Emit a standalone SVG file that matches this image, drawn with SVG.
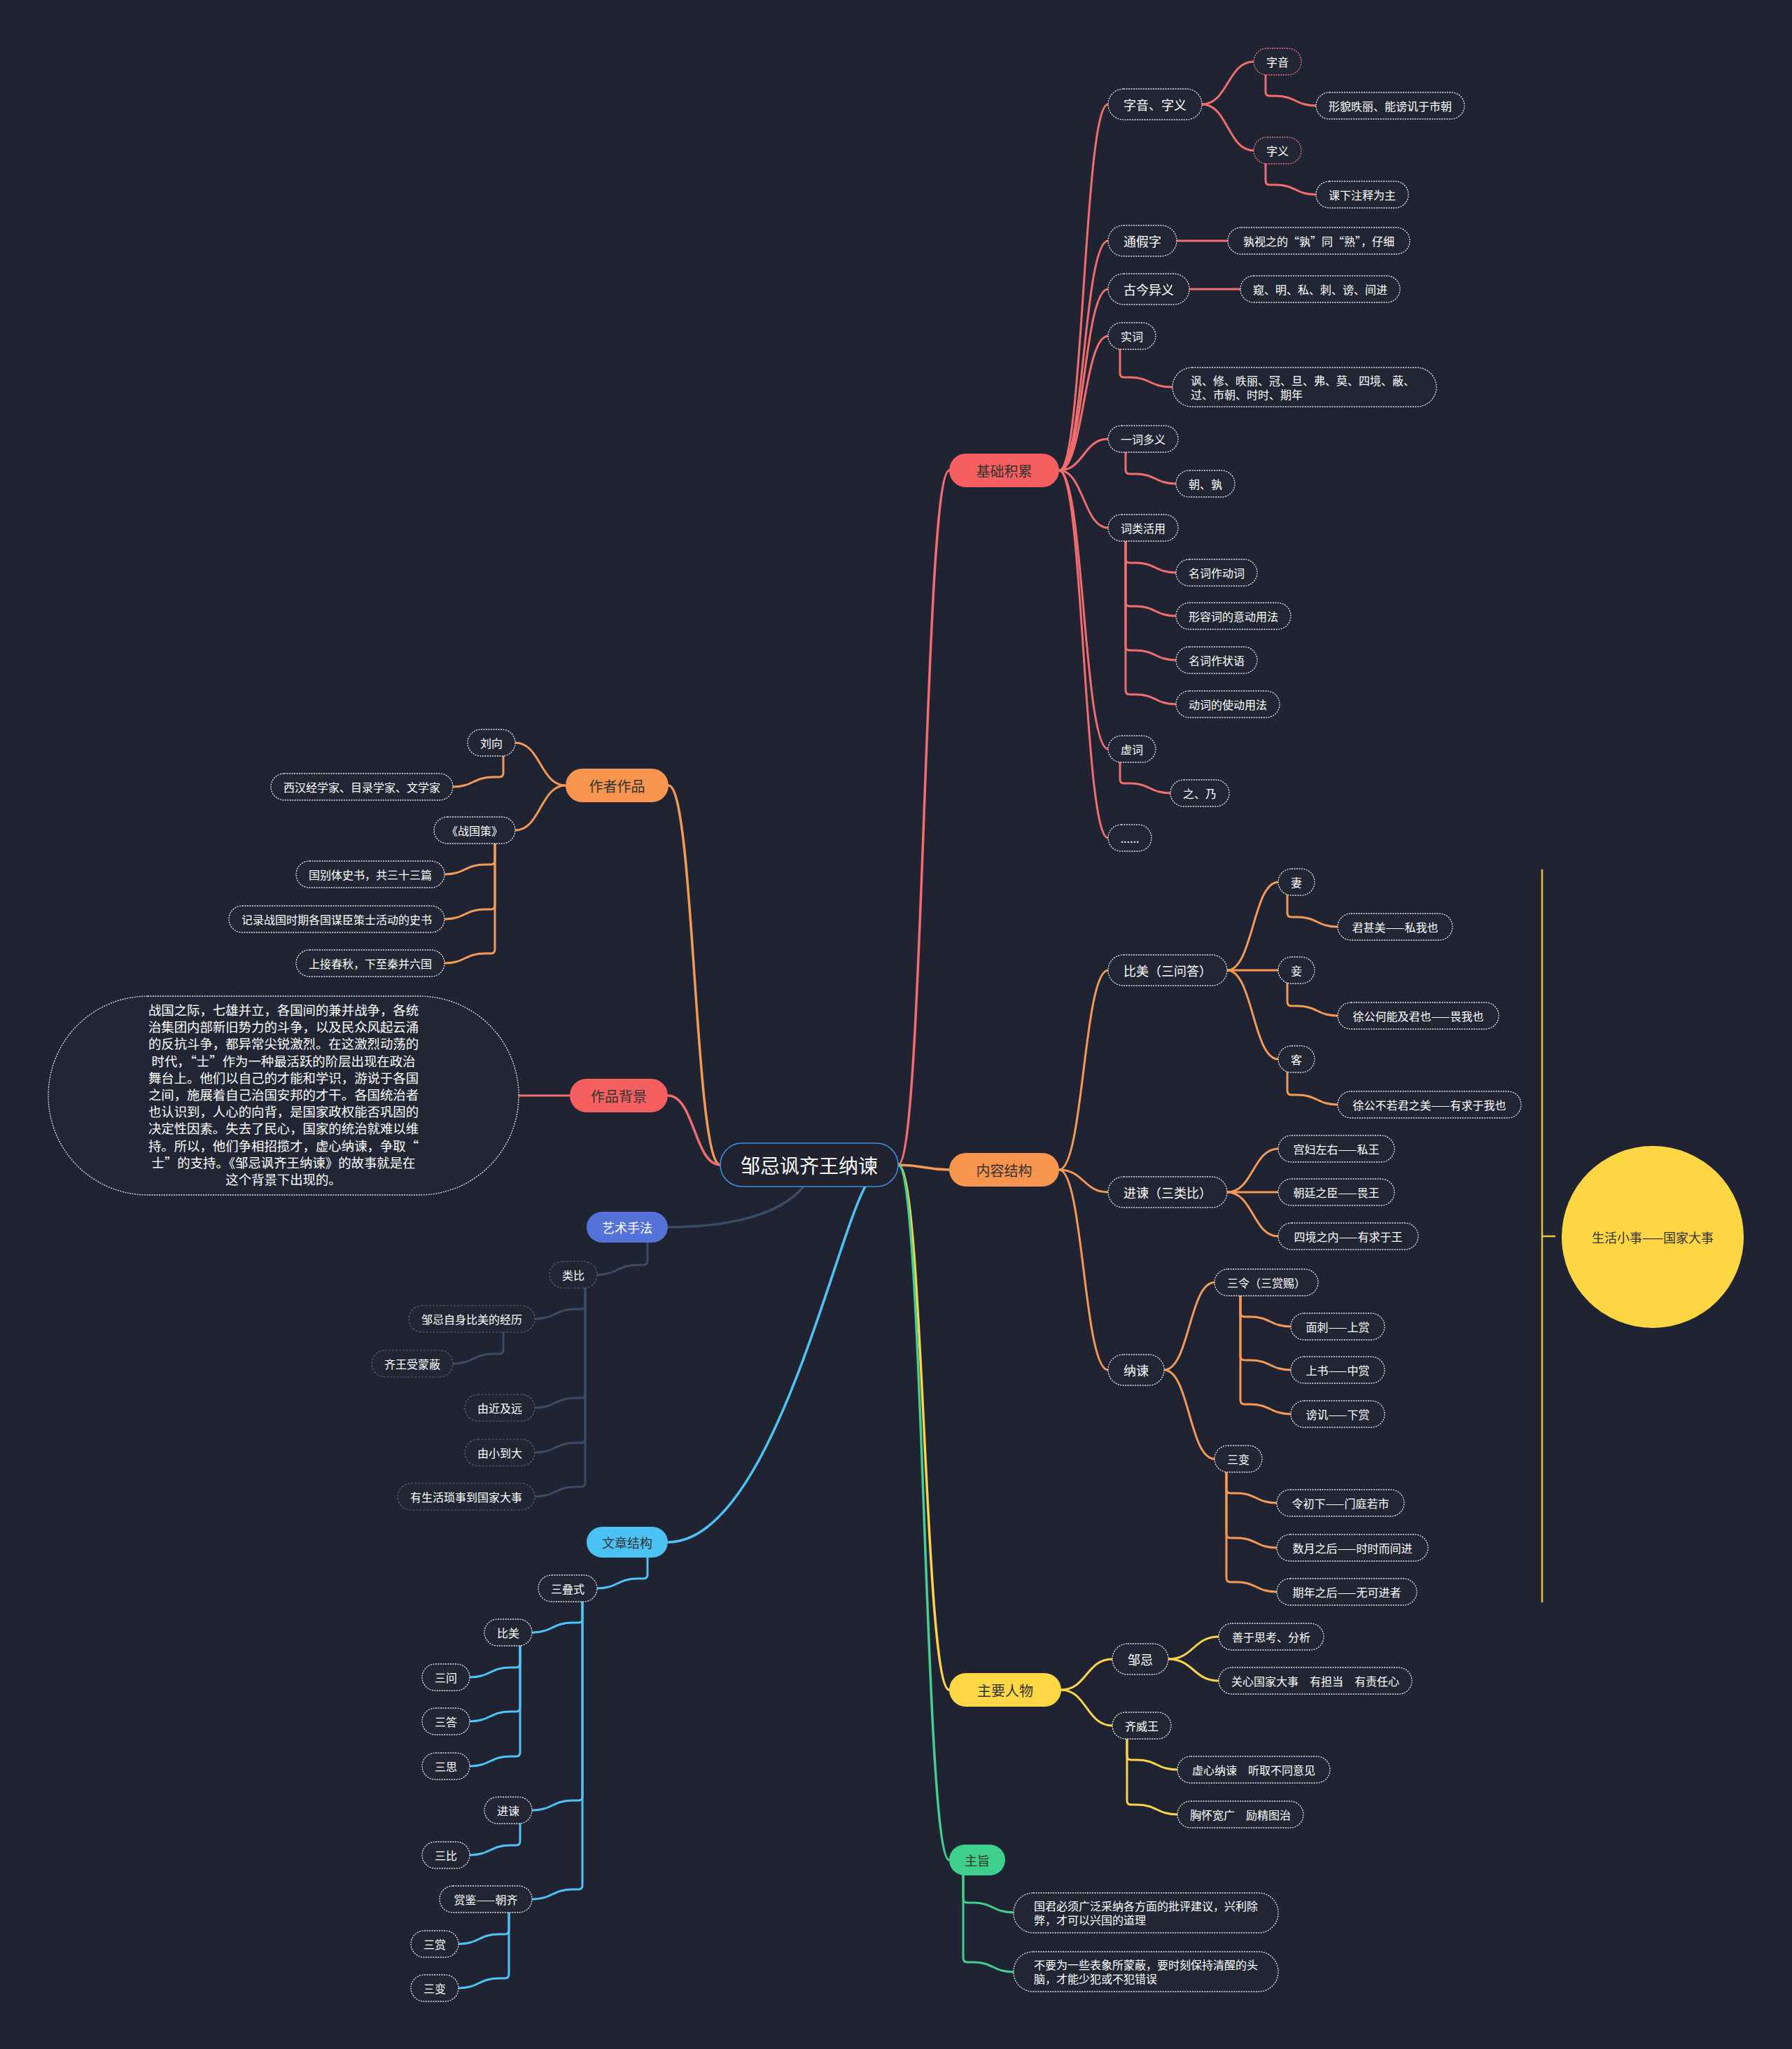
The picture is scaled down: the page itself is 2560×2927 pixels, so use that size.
<svg xmlns="http://www.w3.org/2000/svg" width="2560" height="2927" viewBox="0 0 2560 2927">
<style>
text{font-family:"Noto Sans CJK SC","Noto Sans",sans-serif;dominant-baseline:central;text-anchor:middle;fill:#ffffff}
.fw{font-feature-settings:"fwid" 1}
.s{fill:#222634;stroke:#e6e6e6;stroke-width:1.3;stroke-dasharray:2 1.5}
.sp{fill:#222634;stroke:#e87878;stroke-width:1.3;stroke-dasharray:2 1.5}
.sa{fill:#222634;stroke:#596175;stroke-width:1.2;stroke-dasharray:3 2}
.f16{font-size:16px}
.f18{font-size:18px}
.f20{font-size:20px;fill:#333333}
.dk{fill:#333333}
.l{text-anchor:start}
.c{fill:none;stroke-width:3;stroke-linecap:round;stroke-linejoin:round}
.m{fill:none;stroke-width:3.5;stroke-linecap:round}
.red{stroke:#f26d6d}
.org{stroke:#f59a56}
.yel{stroke:#fbd44a}
.grn{stroke:#42cf8f}
.blu{stroke:#4ec3f7}
.sla{stroke:#3c4b64}
</style>
<rect x="0" y="0" width="2560" height="2927" fill="#202331"/>

<g id="connectors">
  <path class="m red" d="M 1283 1664 C 1320 1664 1320 672 1356 672"/>
  <path class="m org" d="M 1283 1664 C 1320 1664 1320 1671 1356 1671"/>
  <path class="m yel" d="M 1283 1664 C 1320 1664 1320 2414 1356 2414"/>
  <path class="m grn" d="M 1283 1664 C 1320 1664 1320 2657 1356 2657"/>
  <path class="m org" d="M 1029 1664 C 992 1664 992 1122 955 1122"/>
  <path class="m red" d="M 1029 1664 C 992 1664 992 1565 954 1565"/>
  <path class="m sla" d="M 1148 1695 C 1110 1740 1030 1753 954 1753"/>
  <path class="m blu" d="M 1236 1695 C 1190 1780 1100 2203 954 2203"/>

  <path class="c red" d="M 1513 672 C 1548 672 1548 149 1583 149"/>
  <path class="c red" d="M 1513 672 C 1548 672 1548 344 1583 344"/>
  <path class="c red" d="M 1513 672 C 1548 672 1548 413 1583 413"/>
  <path class="c red" d="M 1513 672 C 1548 672 1548 480 1583 480"/>
  <path class="c red" d="M 1513 672 C 1548 672 1548 627 1583 627"/>
  <path class="c red" d="M 1513 672 C 1548 672 1548 754 1583 754"/>
  <path class="c red" d="M 1513 672 C 1548 672 1548 1070 1583 1070"/>
  <path class="c red" d="M 1513 672 C 1548 672 1548 1197 1583 1197"/>
  <path class="c red" d="M 1717 149 C 1754 149 1754 88 1791 88"/>
  <path class="c red" d="M 1717 149 C 1754 149 1754 215 1791 215"/>
  <path class="c red" d="M 1808 107 V 131 Q 1808 137 1814 137 H 1822 C 1851 137 1851 151 1880 151"/>
  <path class="c red" d="M 1808 234 V 258 Q 1808 264 1814 264 H 1822 C 1851 264 1851 278 1880 278"/>
  <path class="c red" d="M 1681 344 H 1754"/>
  <path class="c red" d="M 1699 413 H 1772"/>
  <path class="c red" d="M 1600 499 V 533 Q 1600 539 1606 539 H 1614 C 1643 539 1643 553 1675 553"/>
  <path class="c red" d="M 1608 646 V 671 Q 1608 677 1614 677 H 1622 C 1651 677 1651 691 1680 691"/>
  <path class="c red" d="M 1608 773 V 798 Q 1608 804 1614 804 H 1622 C 1651 804 1651 818 1680 818"/>
  <path class="c red" d="M 1608 773 V 860 Q 1608 866 1614 866 H 1622 C 1651 866 1651 880 1680 880"/>
  <path class="c red" d="M 1608 773 V 923 Q 1608 929 1614 929 H 1622 C 1651 929 1651 943 1680 943"/>
  <path class="c red" d="M 1608 773 V 986 Q 1608 992 1614 992 H 1622 C 1651 992 1651 1006 1680 1006"/>
  <path class="c red" d="M 1600 1089 V 1113 Q 1600 1119 1606 1119 H 1614 C 1643 1119 1643 1133 1672 1133"/>
  <path class="c red" d="M 814 1565 H 741"/>

  <path class="c org" d="M 1513 1671 C 1548 1671 1548 1386 1583 1386"/>
  <path class="c org" d="M 1513 1671 C 1548 1671 1548 1703 1583 1703"/>
  <path class="c org" d="M 1513 1671 C 1548 1671 1548 1957 1583 1957"/>
  <path class="c org" d="M 1753 1386 C 1790 1386 1790 1260 1826 1260"/>
  <path class="c org" d="M 1753 1386 H 1826"/>
  <path class="c org" d="M 1753 1386 C 1790 1386 1790 1513 1826 1513"/>
  <path class="c org" d="M 1839 1279 V 1304 Q 1839 1310 1845 1310 H 1853 C 1882 1310 1882 1324 1911 1324"/>
  <path class="c org" d="M 1839 1405 V 1431 Q 1839 1437 1845 1437 H 1853 C 1882 1437 1882 1451 1911 1451"/>
  <path class="c org" d="M 1839 1532 V 1558 Q 1839 1564 1845 1564 H 1853 C 1882 1564 1882 1578 1911 1578"/>
  <path class="c org" d="M 1753 1703 C 1790 1703 1790 1641 1826 1641"/>
  <path class="c org" d="M 1753 1703 H 1826"/>
  <path class="c org" d="M 1753 1703 C 1790 1703 1790 1766 1826 1766"/>
  <path class="c org" d="M 1663 1957 C 1699 1957 1699 1832 1735 1832"/>
  <path class="c org" d="M 1663 1957 C 1699 1957 1699 2084 1735 2084"/>
  <path class="c org" d="M 1772 1851 V 1875 Q 1772 1881 1778 1881 H 1786 C 1815 1881 1815 1895 1844 1895"/>
  <path class="c org" d="M 1772 1851 V 1937 Q 1772 1943 1778 1943 H 1786 C 1815 1943 1815 1957 1844 1957"/>
  <path class="c org" d="M 1772 1851 V 2000 Q 1772 2006 1778 2006 H 1786 C 1815 2006 1815 2020 1844 2020"/>
  <path class="c org" d="M 1752 2103 V 2127 Q 1752 2133 1758 2133 H 1766 C 1795 2133 1795 2147 1824 2147"/>
  <path class="c org" d="M 1752 2103 V 2191 Q 1752 2197 1758 2197 H 1766 C 1795 2197 1795 2211 1824 2211"/>
  <path class="c org" d="M 1752 2103 V 2254 Q 1752 2260 1758 2260 H 1766 C 1795 2260 1795 2274 1824 2274"/>
  <path class="c org" d="M 808 1122 C 772 1122 772 1061 736 1061"/>
  <path class="c org" d="M 808 1122 C 772 1122 772 1186 736 1186"/>
  <path class="c org" d="M 719 1080 V 1104 Q 719 1110 713 1110 H 705 C 676 1110 676 1124 647 1124"/>
  <path class="c org" d="M 707 1205 V 1229 Q 707 1235 701 1235 H 693 C 664 1235 664 1249 635 1249"/>
  <path class="c org" d="M 707 1205 V 1293 Q 707 1299 701 1299 H 693 C 664 1299 664 1313 635 1313"/>
  <path class="c org" d="M 707 1205 V 1356 Q 707 1362 701 1362 H 693 C 664 1362 664 1376 635 1376"/>

  <path fill="none" stroke="#e8c33c" stroke-width="2.5" d="M 2203 1242 V 2289 M 2203 1766 H 2222"/>

  <path class="c yel" d="M 1516 2414 C 1552 2414 1552 2370 1589 2370"/>
  <path class="c yel" d="M 1516 2414 C 1552 2414 1552 2465 1589 2465"/>
  <path class="c yel" d="M 1669 2370 C 1705 2370 1705 2338 1741 2338"/>
  <path class="c yel" d="M 1669 2370 C 1705 2370 1705 2401 1741 2401"/>
  <path class="c yel" d="M 1610 2484 V 2508 Q 1610 2514 1616 2514 H 1624 C 1653 2514 1653 2528 1682 2528"/>
  <path class="c yel" d="M 1610 2484 V 2572 Q 1610 2578 1616 2578 H 1624 C 1653 2578 1653 2592 1682 2592"/>

  <path class="c grn" d="M 1376 2679 V 2712 Q 1376 2718 1382 2718 H 1390 C 1419 2718 1419 2732 1448 2732"/>
  <path class="c grn" d="M 1376 2679 V 2797 Q 1376 2803 1382 2803 H 1390 C 1419 2803 1419 2817 1448 2817"/>

  <path class="c sla" d="M 925 1775 V 1801 Q 925 1807 919 1807 H 911 C 882 1807 882 1821 853 1821"/>
  <path class="c sla" d="M 836 1840 V 1864 Q 836 1870 830 1870 H 822 C 793 1870 793 1884 764 1884"/>
  <path class="c sla" d="M 836 1840 V 1991 Q 836 1997 830 1997 H 822 C 793 1997 793 2011 764 2011"/>
  <path class="c sla" d="M 836 1840 V 2055 Q 836 2061 830 2061 H 822 C 793 2061 793 2075 764 2075"/>
  <path class="c sla" d="M 836 1840 V 2118 Q 836 2124 830 2124 H 822 C 793 2124 793 2138 764 2138"/>
  <path class="c sla" d="M 719 1903 V 1928 Q 719 1934 713 1934 H 705 C 676 1934 676 1948 647 1948"/>

  <path class="c blu" d="M 925 2225 V 2249 Q 925 2255 919 2255 H 911 C 882 2255 882 2269 853 2269"/>
  <path class="c blu" d="M 832 2288 V 2312 Q 832 2318 826 2318 H 818 C 789 2318 789 2332 760 2332"/>
  <path class="c blu" d="M 832 2288 V 2566 Q 832 2572 826 2572 H 818 C 789 2572 789 2586 760 2586"/>
  <path class="c blu" d="M 832 2288 V 2693 Q 832 2699 826 2699 H 818 C 789 2699 789 2713 760 2713"/>
  <path class="c blu" d="M 743 2351 V 2376 Q 743 2382 737 2382 H 729 C 700 2382 700 2396 671 2396"/>
  <path class="c blu" d="M 743 2351 V 2439 Q 743 2445 737 2445 H 729 C 700 2445 700 2459 671 2459"/>
  <path class="c blu" d="M 743 2351 V 2503 Q 743 2509 737 2509 H 729 C 700 2509 700 2523 671 2523"/>
  <path class="c blu" d="M 743 2605 V 2630 Q 743 2636 737 2636 H 729 C 700 2636 700 2650 671 2650"/>
  <path class="c blu" d="M 727 2732 V 2757 Q 727 2763 721 2763 H 713 C 684 2763 684 2777 655 2777"/>
  <path class="c blu" d="M 727 2732 V 2820 Q 727 2826 721 2826 H 713 C 684 2826 684 2840 655 2840"/>
</g>

<g id="root"><rect x="1029" y="1633" width="254" height="62" rx="31" fill="#20232f" stroke="#3a8ee0" stroke-width="1.6"/><text x="1156" y="1664" style="font-size:28px">邹忌讽齐王纳谏</text></g>

<g id="n-jichu"><rect x="1356" y="648" width="157" height="48" rx="24" fill="#f65f5f"/><text class="f20" x="1434.5" y="672">基础积累</text></g>
<g id="n-neirong"><rect x="1356" y="1647" width="157" height="48" rx="24" fill="#f7954f"/><text class="f20" x="1434.5" y="1671">内容结构</text></g>
<g id="n-renwu"><rect x="1356" y="2390" width="160" height="48" rx="24" fill="#ffd644"/><text class="f20" x="1436" y="2414">主要人物</text></g>
<g id="n-zhuzhi"><rect x="1356" y="2635" width="80" height="44" rx="22" fill="#3ecf8e"/><text class="f18 dk" x="1396" y="2657">主旨</text></g>
<g id="n-zuozhe"><rect x="808" y="1098" width="147" height="48" rx="24" fill="#f7954f"/><text class="f20" x="881.5" y="1122">作者作品</text></g>
<g id="n-beijing"><rect x="814" y="1541" width="140" height="48" rx="24" fill="#f65f5f"/><text class="f20" x="884" y="1565">作品背景</text></g>
<g id="n-yishu"><rect x="838" y="1731" width="116" height="44" rx="22" fill="#5572d9"/><text class="f18" x="896" y="1753">艺术手法</text></g>
<g id="n-jiegou"><rect x="838" y="2181" width="116" height="44" rx="22" fill="#4cc2f4"/><text class="f18 dk" x="896" y="2203">文章结构</text></g>

<g id="r1"><rect class="s" x="1583" y="127" width="134" height="44" rx="22"/><text class="f18" x="1650" y="149">字音、字义</text></g>
<g id="r1a"><rect class="sp" x="1791" y="69" width="68" height="38" rx="19"/><text class="f16" x="1825" y="88">字音</text></g>
<g id="r1a1"><rect class="s" x="1880" y="132" width="212" height="38" rx="19"/><text class="f16" x="1986" y="151">形貌昳丽、能谤讥于市朝</text></g>
<g id="r1b"><rect class="sp" x="1791" y="196" width="68" height="38" rx="19"/><text class="f16" x="1825" y="215">字义</text></g>
<g id="r1b1"><rect class="s" x="1880" y="259" width="132" height="38" rx="19"/><text class="f16" x="1946" y="278">课下注释为主</text></g>
<g id="r2"><rect class="s" x="1583" y="322" width="98" height="44" rx="22"/><text class="f18" x="1632" y="344">通假字</text></g>
<g id="r2a"><rect class="s" x="1754" y="325" width="260" height="38" rx="19"/><text class="f16 fw" x="1884" y="344">孰视之的“孰”同“熟”，仔细</text></g>
<g id="r3"><rect class="s" x="1583" y="391" width="116" height="44" rx="22"/><text class="f18" x="1641" y="413">古今异义</text></g>
<g id="r3a"><rect class="s" x="1772" y="394" width="228" height="38" rx="19"/><text class="f16" x="1886" y="413">窥、明、私、刺、谤、间进</text></g>
<g id="r4"><rect class="s" x="1583" y="461" width="68" height="38" rx="19"/><text class="f16" x="1617" y="480">实词</text></g>
<g id="r4a"><rect class="s" x="1675" y="525" width="377" height="56" rx="28"/><text class="f16 l" x="1701" y="543">讽、修、昳丽、冠、旦、弗、莫、四境、蔽、</text><text class="f16 l" x="1701" y="563">过、市朝、时时、期年</text></g>
<g id="r5"><rect class="s" x="1583" y="608" width="100" height="38" rx="19"/><text class="f16" x="1633" y="627">一词多义</text></g>
<g id="r5a"><rect class="s" x="1680" y="672" width="84" height="38" rx="19"/><text class="f16" x="1722" y="691">朝、孰</text></g>
<g id="r6"><rect class="s" x="1583" y="735" width="100" height="38" rx="19"/><text class="f16" x="1633" y="754">词类活用</text></g>
<g id="r6a"><rect class="s" x="1680" y="799" width="116" height="38" rx="19"/><text class="f16" x="1738" y="818">名词作动词</text></g>
<g id="r6b"><rect class="s" x="1680" y="861" width="164" height="38" rx="19"/><text class="f16" x="1762" y="880">形容词的意动用法</text></g>
<g id="r6c"><rect class="s" x="1680" y="924" width="116" height="38" rx="19"/><text class="f16" x="1738" y="943">名词作状语</text></g>
<g id="r6d"><rect class="s" x="1680" y="987" width="148" height="38" rx="19"/><text class="f16" x="1754" y="1006">动词的使动用法</text></g>
<g id="r7"><rect class="s" x="1583" y="1051" width="68" height="38" rx="19"/><text class="f16" x="1617" y="1070">虚词</text></g>
<g id="r7a"><rect class="s" x="1672" y="1114" width="84" height="38" rx="19"/><text class="f16" x="1714" y="1133">之、乃</text></g>
<g id="r8"><rect class="s" x="1583" y="1178" width="62" height="38" rx="19"/><text class="f16" x="1614" y="1197">......</text></g>

<g id="o1"><rect class="s" x="1583" y="1364" width="170" height="44" rx="22"/><text class="f18" x="1668" y="1386">比美（三问答）</text></g>
<g id="o1a"><rect class="s" x="1826" y="1241" width="52" height="38" rx="19"/><text class="f16" x="1852" y="1260">妻</text></g>
<g id="o1a1"><rect class="s" x="1911" y="1305" width="164" height="38" rx="19"/><text class="f16" x="1993" y="1324">君甚美——私我也</text></g>
<g id="o1b"><rect class="s" x="1826" y="1367" width="52" height="38" rx="19"/><text class="f16" x="1852" y="1386">妾</text></g>
<g id="o1b1"><rect class="s" x="1911" y="1432" width="230" height="38" rx="19"/><text class="f16" x="2026" y="1451">徐公何能及君也——畏我也</text></g>
<g id="o1c"><rect class="s" x="1826" y="1494" width="52" height="38" rx="19"/><text class="f16" x="1852" y="1513">客</text></g>
<g id="o1c1"><rect class="s" x="1911" y="1559" width="262" height="38" rx="19"/><text class="f16" x="2042" y="1578">徐公不若君之美——有求于我也</text></g>
<g id="o2"><rect class="s" x="1583" y="1681" width="170" height="44" rx="22"/><text class="f18" x="1668" y="1703">进谏（三类比）</text></g>
<g id="o2a"><rect class="s" x="1826" y="1622" width="166" height="38" rx="19"/><text class="f16" x="1909" y="1641">宫妇左右——私王</text></g>
<g id="o2b"><rect class="s" x="1826" y="1684" width="166" height="38" rx="19"/><text class="f16" x="1909" y="1703">朝廷之臣——畏王</text></g>
<g id="o2c"><rect class="s" x="1826" y="1747" width="200" height="38" rx="19"/><text class="f16" x="1926" y="1766">四境之内——有求于王</text></g>
<g id="o3"><rect class="s" x="1583" y="1935" width="80" height="44" rx="22"/><text class="f18" x="1623" y="1957">纳谏</text></g>
<g id="o3a"><rect class="s" x="1735" y="1813" width="148" height="38" rx="19"/><text class="f16" x="1809" y="1832">三令（三赏赐）</text></g>
<g id="o3a1"><rect class="s" x="1844" y="1876" width="134" height="38" rx="19"/><text class="f16" x="1911" y="1895">面刺——上赏</text></g>
<g id="o3a2"><rect class="s" x="1844" y="1938" width="134" height="38" rx="19"/><text class="f16" x="1911" y="1957">上书——中赏</text></g>
<g id="o3a3"><rect class="s" x="1844" y="2001" width="134" height="38" rx="19"/><text class="f16" x="1911" y="2020">谤讥——下赏</text></g>
<g id="o3b"><rect class="s" x="1735" y="2065" width="68" height="38" rx="19"/><text class="f16" x="1769" y="2084">三变</text></g>
<g id="o3b1"><rect class="s" x="1824" y="2128" width="182" height="38" rx="19"/><text class="f16" x="1915" y="2147">令初下——门庭若市</text></g>
<g id="o3b2"><rect class="s" x="1824" y="2192" width="216" height="38" rx="19"/><text class="f16" x="1932" y="2211">数月之后——时时而间进</text></g>
<g id="o3b3"><rect class="s" x="1824" y="2255" width="200" height="38" rx="19"/><text class="f16" x="1924" y="2274">期年之后——无可进者</text></g>

<g id="summary"><circle cx="2361" cy="1767" r="130" fill="#fdd643"/><text class="f18 dk" x="2361" y="1767">生活小事——国家大事</text></g>

<g id="y1"><rect class="s" x="1589" y="2348" width="80" height="44" rx="22"/><text class="f18" x="1629" y="2370">邹忌</text></g>
<g id="y1a"><rect class="s" x="1741" y="2319" width="150" height="38" rx="19"/><text class="f16" x="1816" y="2338">善于思考、分析</text></g>
<g id="y1b"><rect class="s" x="1741" y="2382" width="276" height="38" rx="19"/><text class="f16" x="1879" y="2401">关心国家大事　有担当　有责任心</text></g>
<g id="y2"><rect class="s" x="1589" y="2446" width="84" height="38" rx="19"/><text class="f16" x="1631" y="2465">齐威王</text></g>
<g id="y2a"><rect class="s" x="1682" y="2509" width="218" height="38" rx="19"/><text class="f16" x="1791" y="2528">虚心纳谏　听取不同意见</text></g>
<g id="y2b"><rect class="s" x="1682" y="2573" width="180" height="38" rx="19"/><text class="f16" x="1772" y="2592">胸怀宽广　励精图治</text></g>

<g id="g1"><rect class="s" x="1448" y="2704" width="378" height="57" rx="28"/><text class="f16 l" x="1477" y="2722">国君必须广泛采纳各方面的批评建议，兴利除</text><text class="f16 l" x="1477" y="2742">弊，才可以兴国的道理</text></g>
<g id="g2"><rect class="s" x="1448" y="2788" width="378" height="57" rx="28"/><text class="f16 l" x="1477" y="2806">不要为一些表象所蒙蔽，要时刻保持清醒的头</text><text class="f16 l" x="1477" y="2826">脑，才能少犯或不犯错误</text></g>

<g id="a1"><rect class="s" x="668" y="1042" width="68" height="38" rx="19"/><text class="f16" x="702" y="1061">刘向</text></g>
<g id="a1a"><rect class="s" x="387" y="1105" width="260" height="38" rx="19"/><text class="f16" x="517" y="1124">西汉经学家、目录学家、文学家</text></g>
<g id="a2"><rect class="s" x="620" y="1167" width="116" height="38" rx="19"/><text class="f16" x="678" y="1186">《战国策》</text></g>
<g id="a2a"><rect class="s" x="423" y="1230" width="212" height="38" rx="19"/><text class="f16" x="529" y="1249">国别体史书，共三十三篇</text></g>
<g id="a2b"><rect class="s" x="327" y="1294" width="308" height="38" rx="19"/><text class="f16" x="481" y="1313">记录战国时期各国谋臣策士活动的史书</text></g>
<g id="a2c"><rect class="s" x="423" y="1357" width="212" height="38" rx="19"/><text class="f16" x="529" y="1376">上接春秋，下至秦并六国</text></g>

<g id="bg1"><rect class="s" x="69" y="1423" width="672" height="284" rx="142"/>
<text style="font-size:18.4px" x="405" y="1442">战国之际，七雄并立，各国间的兼并战争，各统</text>
<text style="font-size:18.4px" x="405" y="1466">治集团内部新旧势力的斗争，以及民众风起云涌</text>
<text style="font-size:18.4px" x="405" y="1490">的反抗斗争，都异常尖锐激烈。在这激烈动荡的</text>
<text class="fw" style="font-size:18.4px" x="405" y="1515">时代，“士”作为一种最活跃的阶层出现在政治</text>
<text style="font-size:18.4px" x="405" y="1539">舞台上。他们以自己的才能和学识，游说于各国</text>
<text style="font-size:18.4px" x="405" y="1563">之间，施展着自己治国安邦的才干。各国统治者</text>
<text style="font-size:18.4px" x="405" y="1587">也认识到，人心的向背，是国家政权能否巩固的</text>
<text style="font-size:18.4px" x="405" y="1611">决定性因素。失去了民心，国家的统治就难以维</text>
<text class="fw" style="font-size:18.4px" x="405" y="1636">持。所以，他们争相招揽才，虚心纳谏，争取“</text>
<text class="fw" style="font-size:18.4px" x="405" y="1660">士”的支持。《邹忌讽齐王纳谏》的故事就是在</text>
<text style="font-size:18.4px" x="405" y="1684">这个背景下出现的。</text>
</g>

<g id="s1"><rect class="sa" x="785" y="1802" width="68" height="38" rx="19"/><text class="f16" x="819" y="1821">类比</text></g>
<g id="s1a"><rect class="sa" x="584" y="1865" width="180" height="38" rx="19"/><text class="f16" x="674" y="1884">邹忌自身比美的经历</text></g>
<g id="s1a1"><rect class="sa" x="531" y="1929" width="116" height="38" rx="19"/><text class="f16" x="589" y="1948">齐王受蒙蔽</text></g>
<g id="s1b"><rect class="sa" x="664" y="1992" width="100" height="38" rx="19"/><text class="f16" x="714" y="2011">由近及远</text></g>
<g id="s1c"><rect class="sa" x="664" y="2056" width="100" height="38" rx="19"/><text class="f16" x="714" y="2075">由小到大</text></g>
<g id="s1d"><rect class="sa" x="568" y="2119" width="196" height="38" rx="19"/><text class="f16" x="666" y="2138">有生活琐事到国家大事</text></g>

<g id="b1"><rect class="s" x="769" y="2250" width="84" height="38" rx="19"/><text class="f16" x="811" y="2269">三叠式</text></g>
<g id="b1a"><rect class="s" x="692" y="2313" width="68" height="38" rx="19"/><text class="f16" x="726" y="2332">比美</text></g>
<g id="b1a1"><rect class="s" x="603" y="2377" width="68" height="38" rx="19"/><text class="f16" x="637" y="2396">三问</text></g>
<g id="b1a2"><rect class="s" x="603" y="2440" width="68" height="38" rx="19"/><text class="f16" x="637" y="2459">三答</text></g>
<g id="b1a3"><rect class="s" x="603" y="2504" width="68" height="38" rx="19"/><text class="f16" x="637" y="2523">三思</text></g>
<g id="b1b"><rect class="s" x="692" y="2567" width="68" height="38" rx="19"/><text class="f16" x="726" y="2586">进谏</text></g>
<g id="b1b1"><rect class="s" x="603" y="2631" width="68" height="38" rx="19"/><text class="f16" x="637" y="2650">三比</text></g>
<g id="b1c"><rect class="s" x="628" y="2694" width="132" height="38" rx="19"/><text class="f16" x="694" y="2713">赏鉴——朝齐</text></g>
<g id="b1c1"><rect class="s" x="587" y="2758" width="68" height="38" rx="19"/><text class="f16" x="621" y="2777">三赏</text></g>
<g id="b1c2"><rect class="s" x="587" y="2821" width="68" height="38" rx="19"/><text class="f16" x="621" y="2840">三变</text></g>
</svg>
